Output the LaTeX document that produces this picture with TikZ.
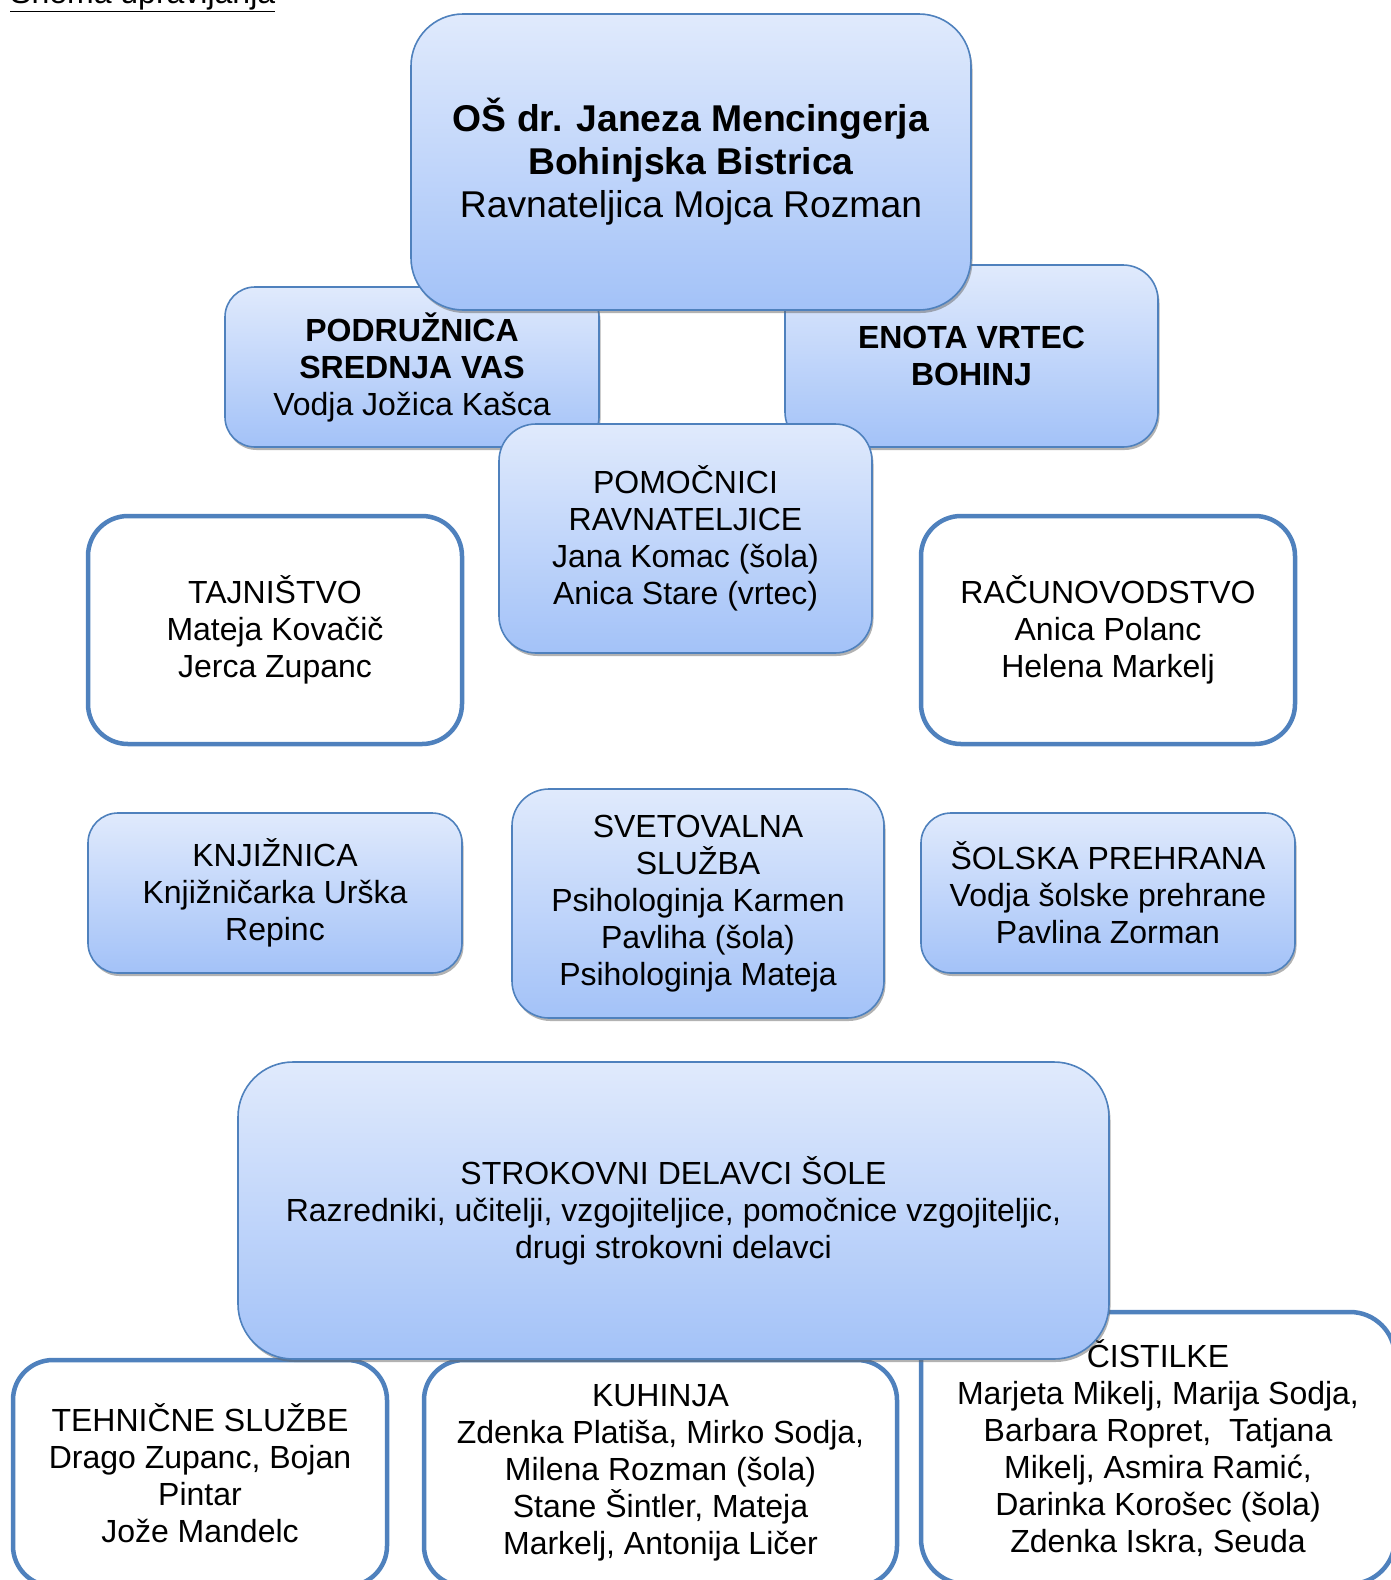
\documentclass[tikz,border=0pt]{standalone}
\usepackage{fontspec}
\setmainfont{Liberation Sans}
\usetikzlibrary{shadows}

\definecolor{boxline}{HTML}{4F81BD}
\definecolor{gradtop}{HTML}{E0EAFC}
\definecolor{gradbot}{HTML}{A3C2F8}

\tikzset{
  txt/.style={font=\fontsize{32}{37}\selectfont, align=center, inner sep=0pt},
  gradbox/.style={txt, draw=boxline, line width=1.6pt, top color=gradtop, bottom color=gradbot,
    drop shadow={shadow xshift=1.5pt, shadow yshift=-3pt, fill=black!60}},
  plainbox/.style={txt, draw=boxline, line width=4.5pt, fill=white}
}

\begin{document}
\begin{tikzpicture}[x=1pt, y=-1pt]
    \useasboundingbox (0, 0) rectangle (1390, 1580);

    \node[anchor=base west, inner sep=0pt, font=\fontsize{32}{38}\selectfont] (hdr) at(10, 3) {\underline{Shema upravljanja}};

    \node[gradbox, minimum width=374, minimum height=160, rounded corners=30] (podr) at(412, 367)
        {\textbf{PODRUŽNICA}\\ \textbf{SREDNJA VAS}\\ Vodja Jožica Kašca};
    \node[gradbox, minimum width=373, minimum height=182, rounded corners=35] (vrtec) at(971.5, 356)
        {\textbf{ENOTA VRTEC}\\ \textbf{BOHINJ}};
    \node[gradbox, minimum width=560, minimum height=296, rounded corners=52,
          font=\fontsize{37.3}{43}\selectfont] (ravn) at(691, 162)
        {\textbf{OŠ dr. Janeza Mencingerja}\\ \textbf{Bohinjska Bistrica}\\ Ravnateljica Mojca Rozman};
    \node[gradbox, minimum width=373, minimum height=229, rounded corners=37] (pomoc) at(685.5, 538.5)
        {POMOČNICI\\ RAVNATELJICE\\ Jana Komac (šola)\\ Anica Stare (vrtec)};

    \node[plainbox, minimum width=374, minimum height=228, rounded corners=40] (tajn) at(275, 630)
        {TAJNIŠTVO\\ Mateja Kovačič\\ Jerca Zupanc};
    \node[plainbox, minimum width=374, minimum height=228, rounded corners=40] (racun) at(1108, 630)
        {RAČUNOVODSTVO\\ Anica Polanc\\ Helena Markelj};

    \node[gradbox, minimum width=374, minimum height=160, rounded corners=30] (knjiz) at(275, 893)
        {KNJIŽNICA\\ Knjižničarka Urška\\ Repinc};
    \node[gradbox, minimum width=372, minimum height=229, rounded corners=37] (svet) at(698, 903.5)
        {SVETOVALNA\\ SLUŽBA\\ Psihologinja Karmen\\ Pavliha (šola)\\ Psihologinja Mateja};
    \node[gradbox, minimum width=374, minimum height=160, rounded corners=30] (prehr) at(1108, 893)
        {ŠOLSKA PREHRANA\\ Vodja šolske prehrane\\ Pavlina Zorman};

    \node[plainbox, minimum width=374, minimum height=226, rounded corners=40] (teh) at(200, 1473)
        {TEHNIČNE SLUŽBE\\ Drago Zupanc, Bojan\\ Pintar\\ Jože Mandelc};
    \node[plainbox, minimum width=473, minimum height=226, rounded corners=40] (kuh) at(660.5, 1473)
        {KUHINJA\\ Zdenka Platiša, Mirko Sodja,\\ Milena Rozman (šola)\\ Stane Šintler, Mateja\\ Markelj, Antonija Ličer};
    \node[plainbox, minimum width=474, minimum height=272, rounded corners=45] (cist) at(1158, 1448)
        {ČISTILKE\\ Marjeta Mikelj, Marija Sodja,\\ Barbara Ropret,\ \ Tatjana\\ Mikelj, Asmira Ramić,\\ Darinka Korošec (šola)\\ Zdenka Iskra, Seuda};

    \node[gradbox, minimum width=871, minimum height=297, rounded corners=55] (strok) at(673.5, 1210.5)
        {STROKOVNI DELAVCI ŠOLE\\ Razredniki, učitelji, vzgojiteljice, pomočnice vzgojiteljic,\\ drugi strokovni delavci};
\end{tikzpicture}
\end{document}
